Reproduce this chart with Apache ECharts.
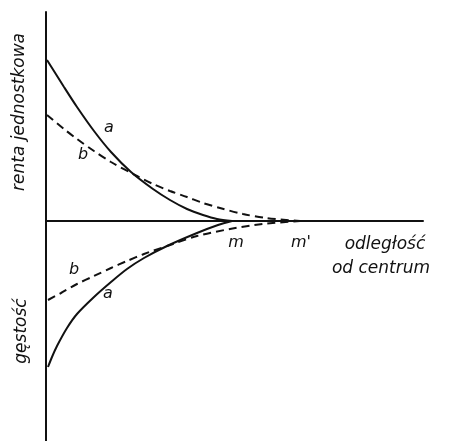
<!DOCTYPE html>
<html>
<head>
<meta charset="utf-8">
<script src="https://cdn.jsdelivr.net/npm/echarts@6/dist/echarts.min.js"></script>
<style>
html, body { margin: 0; padding: 0; background: #fff; }
#chart { width: 451px; height: 441px; }
</style>
</head>
<body>
<div id="chart"></div>
<script>
// distance from centre (arbitrary units) / value pairs
var rentA = [[1,161],[18,134],[31,114],[48,90],[65,69],[85,49],[107,32],[124,21],[141,12],[157,6],[171,2],[186,0]];
var rentB = [[1,106],[18,92],[31,82],[48,70],[65,59],[91,45],[107,37],[124,30],[141,24],[157,18],[174,13],[197,7],[220,3],[254,0]];
var densA = [[2,-146],[6,-136],[11,-125],[21,-107],[31,-93],[48,-76],[65,-61],[81,-48],[98,-37],[121,-25],[151,-12],[172,-4],[186,0]];
var densB = [[2,-79],[15,-72],[31,-63],[48,-55],[65,-47],[81,-40],[98,-33],[127,-23],[151,-15],[184,-8],[217,-3],[254,0]];

var ink = '#111';
var font = 'DejaVu Sans';

var chart = echarts.init(document.getElementById('chart'));

function curve(data, dashed) {
	return {
		type: 'line',
		data: data,
		smooth: 0.3,
		symbol: 'none',
		silent: true,
		lineStyle: {
			color: ink,
			width: 2,
			type: dashed ? [8, 5] : 'solid'
		}
	};
}

function txt(x, y, s, size, rot) {
	return {
		type: 'text',
		x: x,
		y: y,
		rotation: rot || 0,
		style: {
			text: s,
			fill: ink,
			font: 'italic ' + size + 'px "' + font + '"',
			align: 'center',
			verticalAlign: 'middle'
		}
	};
}

var option = {
	backgroundColor: '#fff',
	animation: false,
	grid: { left: 46, width: 377, top: 12, height: 429 },
	xAxis: {
		type: 'value',
		min: 0,
		max: 377,
		axisLine: { onZero: true, lineStyle: { color: ink, width: 2 } },
		axisTick: { show: false },
		axisLabel: { show: false },
		splitLine: { show: false }
	},
	yAxis: {
		type: 'value',
		min: -220,
		max: 209,
		axisLine: { show: true, onZero: true, lineStyle: { color: ink, width: 2 } },
		axisTick: { show: false },
		axisLabel: { show: false },
		splitLine: { show: false }
	},
	series: [
		curve(rentA, false),
		curve(rentB, true),
		curve(densA, false),
		curve(densB, true)
	],
	graphic: [
		txt(20, 112, 'renta jednostkowa', 17, Math.PI / 2),
		txt(22, 331, 'gęstość', 17, Math.PI / 2),
		txt(385, 245, 'odległość', 17),
		txt(381, 269, 'od centrum', 17),
		txt(236, 243, 'm', 16),
		txt(301, 243, "m'", 16),
		txt(109, 128, 'a', 16),
		txt(83, 155, 'b', 16),
		txt(74, 270, 'b', 16),
		txt(108, 294, 'a', 16)
	]
};

chart.setOption(option);
</script>
</body>
</html>
